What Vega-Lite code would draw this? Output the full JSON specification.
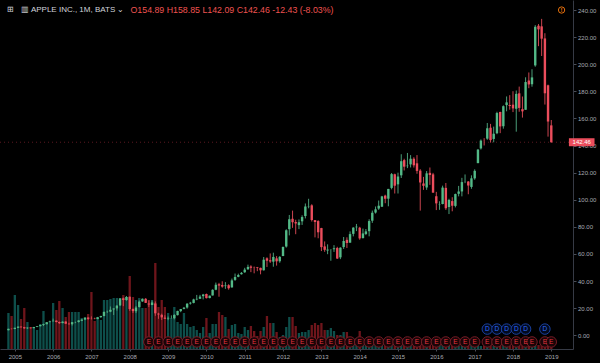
{
  "$schema": "https://vega.github.io/schema/vega-lite/v6.json",
  "width": 573,
  "height": 349,
  "autosize": "none",
  "padding": {"left": 0, "top": 0, "right": 27, "bottom": 14},
  "background": "#000000",
  "config": {
    "view": {"stroke": null},
    "font": "Liberation Sans",
    "axis": {"labelFont": "Liberation Sans", "labelFontSize": 6, "labelColor": "#a8abb3", "domainColor": "#363a45", "tickColor": "#4a4e58", "grid": false}
  },
  "title": {"text": "⊞\u00a0\u00a0\u00a0▥\u00a0APPLE INC., 1M, BATS ⌄", "anchor": "start", "frame": "group", "orient": "top", "offset": 0, "dx": 7, "dy": 14, "font": "Liberation Sans", "fontSize": 8, "fontWeight": "normal", "color": "#d1d4dc"},
  "datasets": {
    "ohlc": [
      {"d":"2004-11-01","o":3.74,"h":4.87,"l":3.63,"c":4.79,"v":3600},
      {"d":"2004-12-01","o":4.79,"h":5.00,"l":4.44,"c":4.60,"v":3300},
      {"d":"2005-01-01","o":4.63,"h":5.57,"l":4.46,"c":5.49,"v":5400},
      {"d":"2005-02-01","o":5.50,"h":6.46,"l":5.47,"c":6.41,"v":4400},
      {"d":"2005-03-01","o":6.43,"h":6.45,"l":5.63,"c":5.95,"v":3000},
      {"d":"2005-04-01","o":6.01,"h":6.25,"l":4.73,"c":5.15,"v":4100},
      {"d":"2005-05-01","o":5.17,"h":5.85,"l":4.73,"c":5.68,"v":2700},
      {"d":"2005-06-01","o":5.70,"h":5.77,"l":4.99,"c":5.26,"v":2200},
      {"d":"2005-07-01","o":5.26,"h":6.23,"l":5.21,"c":6.09,"v":2200},
      {"d":"2005-08-01","o":6.13,"h":6.74,"l":6.01,"c":6.70,"v":1900},
      {"d":"2005-09-01","o":6.71,"h":7.79,"l":6.60,"c":7.66,"v":2500},
      {"d":"2005-10-01","o":7.60,"h":8.61,"l":6.84,"c":8.23,"v":3800},
      {"d":"2005-11-01","o":8.17,"h":9.74,"l":8.13,"c":9.69,"v":2600},
      {"d":"2005-12-01","o":9.73,"h":10.79,"l":9.71,"c":10.27,"v":2700},
      {"d":"2006-01-01","o":10.34,"h":12.34,"l":10.27,"c":10.79,"v":4600},
      {"d":"2006-02-01","o":10.84,"h":10.94,"l":9.60,"c":9.78,"v":3900},
      {"d":"2006-03-01","o":9.83,"h":10.20,"l":8.31,"c":8.96,"v":4800},
      {"d":"2006-04-01","o":9.03,"h":10.33,"l":8.86,"c":10.06,"v":4100},
      {"d":"2006-05-01","o":10.16,"h":10.29,"l":8.49,"c":8.54,"v":3200},
      {"d":"2006-06-01","o":8.51,"h":9.27,"l":7.91,"c":8.18,"v":3700},
      {"d":"2006-07-01","o":8.19,"h":9.76,"l":7.17,"c":9.71,"v":3700},
      {"d":"2006-08-01","o":9.59,"h":10.07,"l":8.96,"c":9.69,"v":3700},
      {"d":"2006-09-01","o":9.79,"h":11.09,"l":9.43,"c":11.00,"v":3700},
      {"d":"2006-10-01","o":10.73,"h":11.86,"l":10.46,"c":11.58,"v":3100},
      {"d":"2006-11-01","o":11.63,"h":13.31,"l":11.20,"c":13.09,"v":3100},
      {"d":"2006-12-01","o":13.11,"h":13.19,"l":11.37,"c":12.12,"v":3500},
      {"d":"2007-01-01","o":12.33,"h":13.97,"l":11.70,"c":12.25,"v":5700},
      {"d":"2007-02-01","o":12.31,"h":12.99,"l":11.86,"c":12.09,"v":2800},
      {"d":"2007-03-01","o":12.00,"h":13.57,"l":11.86,"c":13.27,"v":3200},
      {"d":"2007-04-01","o":13.44,"h":14.44,"l":12.80,"c":14.26,"v":2900},
      {"d":"2007-05-01","o":14.23,"h":17.43,"l":14.01,"c":17.31,"v":4900},
      {"d":"2007-06-01","o":17.30,"h":18.23,"l":16.49,"c":17.43,"v":4900},
      {"d":"2007-07-01","o":17.44,"h":21.27,"l":17.04,"c":18.82,"v":5000},
      {"d":"2007-08-01","o":19.09,"h":19.91,"l":15.01,"c":19.78,"v":5100},
      {"d":"2007-09-01","o":19.86,"h":22.14,"l":18.23,"c":21.92,"v":5100},
      {"d":"2007-10-01","o":22.09,"h":27.43,"l":21.61,"c":27.14,"v":5100},
      {"d":"2007-11-01","o":27.29,"h":27.84,"l":21.51,"c":26.03,"v":5400},
      {"d":"2007-12-01","o":25.99,"h":29.00,"l":25.47,"c":28.30,"v":5200},
      {"d":"2008-01-01","o":28.47,"h":28.61,"l":18.01,"c":19.34,"v":7300},
      {"d":"2008-02-01","o":19.46,"h":19.79,"l":16.49,"c":17.86,"v":5200},
      {"d":"2008-03-01","o":17.77,"h":21.57,"l":16.40,"c":20.50,"v":4900},
      {"d":"2008-04-01","o":20.90,"h":25.71,"l":20.46,"c":24.85,"v":5100},
      {"d":"2008-05-01","o":24.99,"h":27.19,"l":24.71,"c":26.96,"v":4100},
      {"d":"2008-06-01","o":26.94,"h":27.46,"l":23.86,"c":23.92,"v":4100},
      {"d":"2008-07-01","o":23.46,"h":25.77,"l":20.93,"c":22.71,"v":4900},
      {"d":"2008-08-01","o":22.33,"h":25.71,"l":22.33,"c":24.22,"v":4900},
      {"d":"2008-09-01","o":23.51,"h":25.00,"l":14.37,"c":16.24,"v":8600},
      {"d":"2008-10-01","o":15.99,"h":16.63,"l":12.14,"c":15.37,"v":4200},
      {"d":"2008-11-01","o":15.13,"h":15.97,"l":11.30,"c":13.24,"v":4900},
      {"d":"2008-12-01","o":13.04,"h":14.80,"l":12.07,"c":12.19,"v":4200},
      {"d":"2009-01-01","o":12.36,"h":13.89,"l":11.17,"c":12.88,"v":3600},
      {"d":"2009-02-01","o":12.73,"h":14.71,"l":12.36,"c":12.76,"v":3100},
      {"d":"2009-03-01","o":12.59,"h":15.57,"l":11.76,"c":15.02,"v":4200},
      {"d":"2009-04-01","o":14.87,"h":18.14,"l":14.66,"c":17.98,"v":2700},
      {"d":"2009-05-01","o":17.86,"h":19.43,"l":17.06,"c":19.40,"v":2500},
      {"d":"2009-06-01","o":19.50,"h":20.91,"l":19.17,"c":20.35,"v":3600},
      {"d":"2009-07-01","o":20.50,"h":23.71,"l":19.64,"c":23.34,"v":2500},
      {"d":"2009-08-01","o":23.43,"h":24.66,"l":22.67,"c":24.03,"v":2200},
      {"d":"2009-09-01","o":23.90,"h":26.99,"l":23.57,"c":26.48,"v":2300},
      {"d":"2009-10-01","o":26.49,"h":29.81,"l":25.87,"c":26.93,"v":1900},
      {"d":"2009-11-01","o":26.93,"h":29.84,"l":26.93,"c":28.56,"v":1600},
      {"d":"2009-12-01","o":28.89,"h":30.56,"l":26.50,"c":30.10,"v":2200},
      {"d":"2010-01-01","o":30.49,"h":30.80,"l":27.19,"c":27.44,"v":3100},
      {"d":"2010-02-01","o":27.49,"h":29.33,"l":27.27,"c":29.23,"v":1600},
      {"d":"2010-03-01","o":29.40,"h":33.93,"l":29.34,"c":33.57,"v":2500},
      {"d":"2010-04-01","o":33.64,"h":38.93,"l":33.26,"c":37.30,"v":2500},
      {"d":"2010-05-01","o":37.69,"h":38.69,"l":28.47,"c":36.70,"v":3700},
      {"d":"2010-06-01","o":37.10,"h":39.86,"l":35.13,"c":35.93,"v":3400},
      {"d":"2010-07-01","o":36.33,"h":39.24,"l":34.27,"c":36.75,"v":3200},
      {"d":"2010-08-01","o":36.97,"h":37.74,"l":33.66,"c":34.73,"v":2000},
      {"d":"2010-09-01","o":35.36,"h":41.86,"l":35.17,"c":40.54,"v":2400},
      {"d":"2010-10-01","o":40.89,"h":45.57,"l":40.17,"c":43.00,"v":2500},
      {"d":"2010-11-01","o":43.17,"h":45.49,"l":42.86,"c":44.45,"v":1600},
      {"d":"2010-12-01","o":45.06,"h":46.67,"l":44.83,"c":46.08,"v":1500},
      {"d":"2011-01-01","o":46.51,"h":49.80,"l":46.09,"c":48.47,"v":2200},
      {"d":"2011-02-01","o":48.76,"h":52.13,"l":48.24,"c":50.46,"v":1900},
      {"d":"2011-03-01","o":50.79,"h":51.67,"l":46.61,"c":49.79,"v":2300},
      {"d":"2011-04-01","o":50.16,"h":50.73,"l":45.74,"c":50.02,"v":1800},
      {"d":"2011-05-01","o":50.14,"h":50.44,"l":47.33,"c":49.69,"v":1300},
      {"d":"2011-06-01","o":49.74,"h":49.93,"l":45.00,"c":47.95,"v":1800},
      {"d":"2011-07-01","o":47.99,"h":57.79,"l":47.79,"c":55.78,"v":2200},
      {"d":"2011-08-01","o":56.83,"h":57.57,"l":50.43,"c":54.98,"v":3300},
      {"d":"2011-09-01","o":55.40,"h":60.41,"l":53.43,"c":54.47,"v":2600},
      {"d":"2011-10-01","o":54.34,"h":60.96,"l":50.60,"c":57.83,"v":2600},
      {"d":"2011-11-01","o":56.77,"h":58.44,"l":51.43,"c":54.60,"v":1700},
      {"d":"2011-12-01","o":54.64,"h":58.44,"l":53.54,"c":57.86,"v":1200},
      {"d":"2012-01-01","o":58.49,"h":65.46,"l":58.43,"c":65.21,"v":1400},
      {"d":"2012-02-01","o":65.49,"h":78.23,"l":64.71,"c":77.49,"v":2200},
      {"d":"2012-03-01","o":78.31,"h":88.79,"l":73.74,"c":85.65,"v":3200},
      {"d":"2012-04-01","o":85.97,"h":92.00,"l":79.29,"c":83.43,"v":3200},
      {"d":"2012-05-01","o":83.56,"h":85.26,"l":74.60,"c":82.53,"v":2300},
      {"d":"2012-06-01","o":81.31,"h":85.51,"l":78.36,"c":83.43,"v":1600},
      {"d":"2012-07-01","o":84.11,"h":88.56,"l":81.43,"c":87.25,"v":1700},
      {"d":"2012-08-01","o":87.99,"h":97.27,"l":86.24,"c":95.03,"v":1700},
      {"d":"2012-09-01","o":95.11,"h":100.73,"l":93.71,"c":95.30,"v":1900},
      {"d":"2012-10-01","o":95.89,"h":96.69,"l":83.96,"c":85.05,"v":2400},
      {"d":"2012-11-01","o":84.99,"h":84.99,"l":72.26,"c":83.61,"v":2600},
      {"d":"2012-12-01","o":84.29,"h":84.94,"l":71.60,"c":76.02,"v":2400},
      {"d":"2013-01-01","o":79.11,"h":79.29,"l":62.14,"c":65.07,"v":2600},
      {"d":"2013-02-01","o":65.59,"h":69.27,"l":61.61,"c":63.06,"v":1900},
      {"d":"2013-03-01","o":62.57,"h":67.13,"l":59.86,"c":63.24,"v":1900},
      {"d":"2013-04-01","o":63.13,"h":63.43,"l":55.01,"c":63.25,"v":2100},
      {"d":"2013-05-01","o":63.50,"h":66.54,"l":61.53,"c":64.25,"v":1800},
      {"d":"2013-06-01","o":64.39,"h":65.30,"l":56.31,"c":56.65,"v":1400},
      {"d":"2013-07-01","o":57.53,"h":64.91,"l":56.21,"c":64.65,"v":1400},
      {"d":"2013-08-01","o":65.11,"h":72.54,"l":63.71,"c":69.60,"v":1700},
      {"d":"2013-09-01","o":70.44,"h":72.29,"l":64.44,"c":68.11,"v":1700},
      {"d":"2013-10-01","o":68.36,"h":76.67,"l":68.29,"c":74.67,"v":1200},
      {"d":"2013-11-01","o":74.86,"h":79.76,"l":73.00,"c":79.44,"v":1000},
      {"d":"2013-12-01","o":79.71,"h":82.16,"l":76.86,"c":80.15,"v":1100},
      {"d":"2014-01-01","o":79.39,"h":80.03,"l":70.51,"c":71.51,"v":1800},
      {"d":"2014-02-01","o":71.80,"h":78.74,"l":71.33,"c":75.18,"v":1000},
      {"d":"2014-03-01","o":74.77,"h":78.43,"l":73.94,"c":76.68,"v":800},
      {"d":"2014-04-01","o":76.83,"h":85.63,"l":73.04,"c":84.30,"v":1200},
      {"d":"2014-05-01","o":84.57,"h":92.03,"l":82.94,"c":90.43,"v":1000},
      {"d":"2014-06-01","o":90.57,"h":95.05,"l":89.82,"c":92.93,"v":800},
      {"d":"2014-07-01","o":93.52,"h":99.44,"l":92.57,"c":95.60,"v":600},
      {"d":"2014-08-01","o":94.90,"h":102.90,"l":94.65,"c":102.50,"v":600},
      {"d":"2014-09-01","o":103.06,"h":103.74,"l":97.45,"c":100.75,"v":800},
      {"d":"2014-10-01","o":100.81,"h":108.04,"l":95.18,"c":108.00,"v":700},
      {"d":"2014-11-01","o":108.75,"h":119.75,"l":107.72,"c":118.93,"v":600},
      {"d":"2014-12-01","o":118.81,"h":119.25,"l":104.63,"c":110.38,"v":700},
      {"d":"2015-01-01","o":111.39,"h":120.00,"l":104.63,"c":117.16,"v":800},
      {"d":"2015-02-01","o":118.05,"h":133.60,"l":116.08,"c":128.46,"v":700},
      {"d":"2015-03-01","o":129.25,"h":130.28,"l":121.63,"c":124.43,"v":600},
      {"d":"2015-04-01","o":124.82,"h":134.54,"l":123.36,"c":125.15,"v":600},
      {"d":"2015-05-01","o":126.10,"h":132.97,"l":123.83,"c":130.28,"v":500},
      {"d":"2015-06-01","o":130.28,"h":131.39,"l":123.77,"c":125.43,"v":400},
      {"d":"2015-07-01","o":126.90,"h":132.97,"l":119.22,"c":121.30,"v":500},
      {"d":"2015-08-01","o":121.50,"h":122.57,"l":92.00,"c":112.76,"v":800},
      {"d":"2015-09-01","o":112.03,"h":116.89,"l":107.31,"c":110.30,"v":600},
      {"d":"2015-10-01","o":109.07,"h":121.22,"l":107.31,"c":119.50,"v":500},
      {"d":"2015-11-01","o":119.87,"h":123.82,"l":111.00,"c":118.30,"v":400},
      {"d":"2015-12-01","o":118.75,"h":119.86,"l":105.20,"c":105.26,"v":500},
      {"d":"2016-01-01","o":102.61,"h":105.85,"l":92.39,"c":97.34,"v":600},
      {"d":"2016-02-01","o":96.47,"h":98.89,"l":92.59,"c":96.69,"v":500},
      {"d":"2016-03-01","o":96.86,"h":110.42,"l":96.65,"c":108.99,"v":500},
      {"d":"2016-04-01","o":108.78,"h":112.39,"l":92.51,"c":93.74,"v":600},
      {"d":"2016-05-01","o":94.64,"h":100.73,"l":89.47,"c":99.86,"v":500},
      {"d":"2016-06-01","o":99.02,"h":101.89,"l":91.50,"c":95.60,"v":400},
      {"d":"2016-07-01","o":95.49,"h":104.55,"l":94.37,"c":104.21,"v":400},
      {"d":"2016-08-01","o":104.41,"h":110.23,"l":102.53,"c":106.10,"v":300},
      {"d":"2016-09-01","o":106.14,"h":116.18,"l":102.53,"c":113.05,"v":500},
      {"d":"2016-10-01","o":113.46,"h":118.69,"l":112.28,"c":113.54,"v":400},
      {"d":"2016-11-01","o":113.46,"h":113.77,"l":104.08,"c":110.52,"v":400},
      {"d":"2016-12-01","o":109.49,"h":118.02,"l":108.11,"c":115.82,"v":400},
      {"d":"2017-01-01","o":115.80,"h":122.44,"l":114.76,"c":121.35,"v":400},
      {"d":"2017-02-01","o":127.03,"h":137.48,"l":127.01,"c":136.99,"v":400},
      {"d":"2017-03-01","o":137.89,"h":144.50,"l":137.05,"c":143.66,"v":300},
      {"d":"2017-04-01","o":143.71,"h":145.46,"l":140.06,"c":143.65,"v":300},
      {"d":"2017-05-01","o":145.10,"h":156.65,"l":144.27,"c":152.76,"v":400},
      {"d":"2017-06-01","o":153.17,"h":155.98,"l":142.20,"c":144.02,"v":400},
      {"d":"2017-07-01","o":144.88,"h":153.99,"l":142.41,"c":148.73,"v":300},
      {"d":"2017-08-01","o":149.10,"h":164.94,"l":148.41,"c":164.00,"v":400},
      {"d":"2017-09-01","o":164.80,"h":164.94,"l":149.16,"c":154.12,"v":400},
      {"d":"2017-10-01","o":154.26,"h":169.65,"l":152.46,"c":169.04,"v":400},
      {"d":"2017-11-01","o":169.87,"h":176.24,"l":165.28,"c":171.85,"v":300},
      {"d":"2017-12-01","o":169.95,"h":177.20,"l":166.46,"c":169.23,"v":300},
      {"d":"2018-01-01","o":170.16,"h":180.10,"l":164.70,"c":167.43,"v":500},
      {"d":"2018-02-01","o":167.16,"h":180.62,"l":150.24,"c":178.12,"v":600},
      {"d":"2018-03-01","o":178.54,"h":183.50,"l":164.94,"c":167.78,"v":500},
      {"d":"2018-04-01","o":166.88,"h":176.19,"l":160.63,"c":165.26,"v":400},
      {"d":"2018-05-01","o":166.41,"h":190.37,"l":166.41,"c":186.87,"v":400},
      {"d":"2018-06-01","o":187.99,"h":193.94,"l":182.33,"c":185.11,"v":300},
      {"d":"2018-07-01","o":185.26,"h":196.31,"l":183.42,"c":190.29,"v":300},
      {"d":"2018-08-01","o":199.13,"h":228.87,"l":198.17,"c":227.63,"v":500},
      {"d":"2018-09-01","o":228.41,"h":229.67,"l":213.35,"c":225.74,"v":400},
      {"d":"2018-10-01","o":227.95,"h":233.47,"l":206.09,"c":218.86,"v":500},
      {"d":"2018-11-01","o":219.05,"h":222.88,"l":170.26,"c":178.58,"v":600},
      {"d":"2018-12-01","o":184.46,"h":184.94,"l":146.59,"c":157.74,"v":600},
      {"d":"2019-01-01","o":154.89,"h":158.85,"l":142.09,"c":142.46,"v":400}
    ],
    "events": [
      {"d":"2008-07-01","t":"E"},{"d":"2008-10-01","t":"E"},{"d":"2009-01-01","t":"E"},{"d":"2009-04-01","t":"E"},
      {"d":"2009-07-01","t":"E"},{"d":"2009-10-01","t":"E"},{"d":"2010-01-01","t":"E"},{"d":"2010-04-01","t":"E"},
      {"d":"2010-07-01","t":"E"},{"d":"2010-10-01","t":"E"},{"d":"2011-01-01","t":"E"},{"d":"2011-04-01","t":"E"},
      {"d":"2011-07-01","t":"E"},{"d":"2011-10-01","t":"E"},{"d":"2012-01-01","t":"E"},{"d":"2012-04-01","t":"E"},
      {"d":"2012-07-01","t":"E"},{"d":"2012-10-01","t":"E"},{"d":"2013-01-01","t":"E"},{"d":"2013-04-01","t":"E"},
      {"d":"2013-07-01","t":"E"},{"d":"2013-10-01","t":"E"},{"d":"2014-01-01","t":"E"},{"d":"2014-04-01","t":"E"},
      {"d":"2014-07-01","t":"E"},{"d":"2014-10-01","t":"E"},{"d":"2015-01-01","t":"E"},{"d":"2015-04-01","t":"E"},
      {"d":"2015-07-01","t":"E"},{"d":"2015-10-01","t":"E"},{"d":"2016-01-01","t":"E"},{"d":"2016-04-01","t":"E"},
      {"d":"2016-07-01","t":"E"},{"d":"2016-10-01","t":"E"},{"d":"2017-01-01","t":"E"},{"d":"2017-05-01","t":"E"},
      {"d":"2017-08-01","t":"E"},{"d":"2017-11-01","t":"E"},{"d":"2018-02-01","t":"E"},{"d":"2018-05-01","t":"E"},
      {"d":"2018-07-01","t":"E"},{"d":"2018-11-01","t":"E"},{"d":"2019-01-01","t":"E"},
      {"d":"2017-05-01","t":"D"},{"d":"2017-08-01","t":"D"},{"d":"2017-11-01","t":"D"},{"d":"2018-02-01","t":"D"},
      {"d":"2018-05-01","t":"D"},{"d":"2018-11-01","t":"D"}
    ]
  },
  "layer": [
    {
      "data": {"name": "ohlc"},
      "mark": {"type": "bar", "width": 2.3},
      "encoding": {
        "x": {"field": "d", "type": "temporal",
          "scale": {"type": "utc", "domain": [{"year": 2004, "month": 9, "date": 29, "hours": 8, "utc": true}, {"year": 2019, "month": 6, "date": 9, "hours": 5, "utc": true}]},
          "axis": {"orient": "bottom", "format": "%Y", "tickCount": {"interval": "year", "step": 1}, "tickSize": 2, "labelPadding": 2, "labelFlush": false, "labelOverlap": false, "title": null}},
        "y": {"field": "v", "type": "quantitative", "scale": {"domain": [0, 34900], "nice": false, "zero": true}, "axis": null},
        "color": {"condition": {"test": "datum.c >= datum.o", "value": "#0e4f4b"}, "value": "#6e151b"}
      }
    },
    {
      "data": {"name": "ohlc"},
      "transform": [{"filter": "year(datum.d) == 2019"}],
      "mark": {"type": "rule", "strokeDash": [1, 3], "color": "#5a1820", "strokeWidth": 1},
      "encoding": {
        "y": {"field": "c", "type": "quantitative", "scale": {"domain": [-10.1, 247.4], "nice": false, "zero": false},
          "axis": {"orient": "right", "zindex": 0, "values": [0, 20, 40, 60, 80, 100, 120, 140, 160, 180, 200, 220, 240], "format": ".2f", "tickSize": 3, "labelPadding": 1.5, "labelOverlap": false, "labelSeparation": 0,
            "title": "O154.89 H158.85 L142.09 C142.46 -12.43 (-8.03%)", "titleAngle": 0, "titleX": -443, "titleY": 12, "titleAlign": "left", "titleBaseline": "alphabetic",
            "titleColor": "#ef5350", "titleFont": "Liberation Sans", "titleFontSize": 8.8, "titleFontWeight": "normal"}}
      }
    },
    {
      "data": {"name": "ohlc"},
      "mark": {"type": "rule", "strokeWidth": 1},
      "encoding": {
        "x": {"field": "d", "type": "temporal"},
        "y": {"field": "l", "type": "quantitative", "scale": {"domain": [-10.1, 247.4], "nice": false, "zero": false}, "axis": null},
        "y2": {"field": "h"},
        "color": {"condition": {"test": "datum.c >= datum.o", "value": "#4a9c78"}, "value": "#c9444f"}
      }
    },
    {
      "data": {"name": "ohlc"},
      "mark": {"type": "bar", "width": 2.4},
      "encoding": {
        "x": {"field": "d", "type": "temporal"},
        "y": {"field": "o", "type": "quantitative", "scale": {"domain": [-10.1, 247.4], "nice": false, "zero": false}, "axis": null},
        "y2": {"field": "c"},
        "color": {"condition": {"test": "datum.c >= datum.o", "value": "#53b987"}, "value": "#eb4d5c"}
      }
    },
    {
      "data": {"name": "events"},
      "transform": [{"filter": "datum.t == 'E'"}],
      "mark": {"type": "point", "shape": "circle", "filled": true, "fill": "#1a0507", "stroke": "#751c26", "strokeWidth": 1, "size": 110, "opacity": 1},
      "encoding": {"x": {"field": "d", "type": "temporal"}, "y": {"datum": -4.9, "type": "quantitative", "scale": {"domain": [-10.1, 247.4], "nice": false, "zero": false}, "axis": null}}
    },
    {
      "data": {"name": "events"},
      "transform": [{"filter": "datum.t == 'E'"}],
      "mark": {"type": "text", "color": "#e5333f", "fontSize": 6.5, "align": "center", "baseline": "middle", "font": "Liberation Sans"},
      "encoding": {"x": {"field": "d", "type": "temporal"}, "y": {"datum": -4.9, "type": "quantitative", "scale": {"domain": [-10.1, 247.4], "nice": false, "zero": false}, "axis": null}, "text": {"field": "t"}}
    },
    {
      "data": {"name": "events"},
      "transform": [{"filter": "datum.t == 'D'"}],
      "mark": {"type": "point", "shape": "circle", "filled": true, "fill": "#020a1e", "stroke": "#1a41a0", "strokeWidth": 1, "size": 110, "opacity": 1},
      "encoding": {"x": {"field": "d", "type": "temporal"}, "y": {"datum": 4.6, "type": "quantitative", "scale": {"domain": [-10.1, 247.4], "nice": false, "zero": false}, "axis": null}}
    },
    {
      "data": {"name": "events"},
      "transform": [{"filter": "datum.t == 'D'"}],
      "mark": {"type": "text", "color": "#2f6bff", "fontSize": 6.5, "align": "center", "baseline": "middle", "font": "Liberation Sans"},
      "encoding": {"x": {"field": "d", "type": "temporal"}, "y": {"datum": 4.6, "type": "quantitative", "scale": {"domain": [-10.1, 247.4], "nice": false, "zero": false}, "axis": null}, "text": {"field": "t"}}
    },
    {
      "data": {"name": "ohlc"},
      "transform": [{"filter": "year(datum.d) == 2019"}],
      "mark": {"type": "rule", "color": "#eb4d5c", "strokeWidth": 8, "strokeCap": "butt"},
      "encoding": {
        "x": {"datum": {"year": 2019, "month": 6, "date": 18, "utc": true}, "type": "temporal"},
        "x2": {"datum": {"year": 2020, "month": 2, "date": 17, "utc": true}},
        "y": {"field": "c", "type": "quantitative", "scale": {"domain": [-10.1, 247.4], "nice": false, "zero": false}, "axis": null}
      }
    },
    {
      "data": {"name": "ohlc"},
      "transform": [{"filter": "year(datum.d) == 2019"}],
      "mark": {"type": "text", "color": "#ffffff", "fontSize": 6, "align": "center", "baseline": "middle", "font": "Liberation Sans"},
      "encoding": {
        "x": {"datum": {"year": 2019, "month": 10, "date": 18, "utc": true}, "type": "temporal"},
        "y": {"field": "c", "type": "quantitative", "scale": {"domain": [-10.1, 247.4], "nice": false, "zero": false}, "axis": null},
        "text": {"field": "c", "type": "quantitative", "format": ".2f"}
      }
    },
    {
      "data": {"values": [{"icon": "!"}]},
      "mark": {"type": "point", "shape": "circle", "filled": false, "stroke": "#e8730c", "strokeWidth": 1, "size": 40, "opacity": 1},
      "encoding": {
        "x": {"datum": {"year": 2019, "month": 4, "date": 9, "utc": true}, "type": "temporal"},
        "y": {"datum": 240, "type": "quantitative", "scale": {"domain": [-10.1, 247.4], "nice": false, "zero": false}, "axis": null}
      }
    },
    {
      "data": {"values": [{"icon": "!"}]},
      "mark": {"type": "text", "color": "#e8730c", "fontSize": 6, "fontWeight": "bold", "align": "center", "baseline": "middle", "font": "Liberation Sans"},
      "encoding": {
        "x": {"datum": {"year": 2019, "month": 4, "date": 9, "utc": true}, "type": "temporal"},
        "y": {"datum": 240, "type": "quantitative", "scale": {"domain": [-10.1, 247.4], "nice": false, "zero": false}, "axis": null},
        "text": {"field": "icon"}
      }
    }
  ],
  "resolve": {"scale": {"y": "independent"}}
}
